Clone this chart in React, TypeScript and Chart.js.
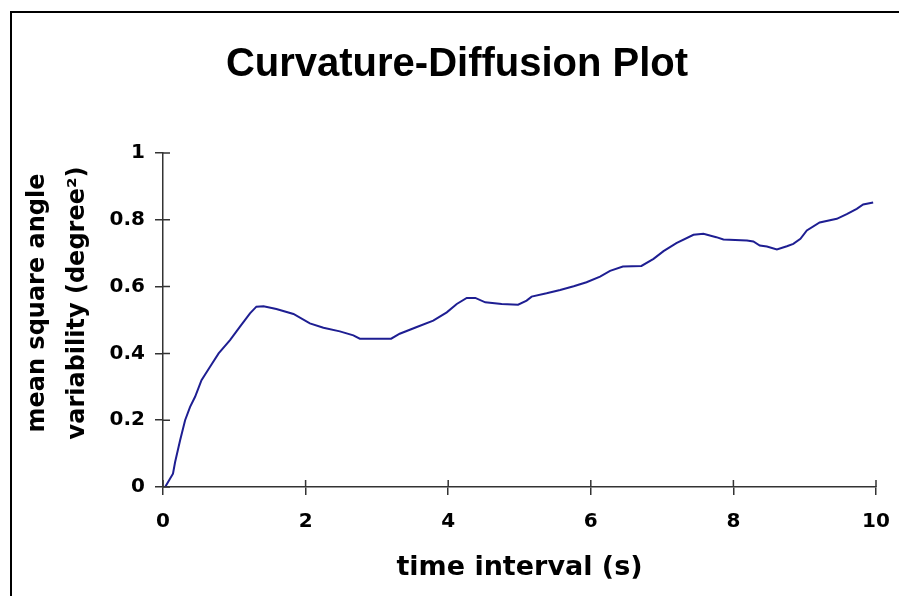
import React, { useEffect, useRef } from "react";
import { Chart, registerables } from "chart.js";

Chart.register(...registerables);

const TITLE = "Curvature-Diffusion Plot";
const X_TITLE = "time interval (s)";
const Y_TITLE = ["mean square angle", "variability (degree²)"];

const X_TICKS = [0, 2, 4, 6, 8, 10];
const X_TICK_LABELS = ["0", "2", "4", "6", "8", "10"];
const Y_TICKS = [0, 0.2, 0.4, 0.6, 0.8, 1];
const Y_TICK_LABELS = ["0", "0.2", "0.4", "0.6", "0.8", "1"];

const times = [
  0.03, 0.14, 0.17, 0.24, 0.31, 0.38, 0.45, 0.54, 0.66, 0.78, 0.94, 1.08, 1.22, 1.31, 1.41,
  1.59, 1.83, 2.06, 2.25, 2.48, 2.67, 2.76, 3.2, 3.32, 3.56, 3.79, 3.98, 4.12, 4.26, 4.38,
  4.52, 4.75, 4.98, 5.1, 5.17, 5.38, 5.57, 5.76, 5.94, 6.13, 6.27, 6.45, 6.71, 6.88, 7.02,
  7.2, 7.44, 7.58, 7.76, 7.86, 8.19, 8.28, 8.37, 8.47, 8.61, 8.75, 8.84, 8.94, 9.03, 9.21,
  9.45, 9.59, 9.73, 9.82, 9.96,
];
const msv = [
  0.0, 0.04, 0.075, 0.14, 0.2, 0.24, 0.27, 0.32, 0.36, 0.4, 0.44, 0.48, 0.52, 0.54, 0.541,
  0.533, 0.518, 0.49, 0.477, 0.466, 0.454, 0.444, 0.444, 0.459, 0.479, 0.498, 0.523, 0.548, 0.566, 0.566,
  0.553, 0.548, 0.546, 0.558, 0.57, 0.58, 0.59, 0.601, 0.613, 0.63, 0.647, 0.66, 0.662, 0.683, 0.706,
  0.73, 0.755, 0.758, 0.748, 0.741, 0.738, 0.735, 0.723, 0.72, 0.711, 0.721, 0.728, 0.743, 0.768, 0.792,
  0.803, 0.817, 0.833, 0.846, 0.852,
];

const AXIS_COLOR = "#333333";
const SANS = "'DejaVu Sans', Verdana, sans-serif";
const TICK_FONT = { family: SANS, size: 20, weight: "bold" as const };

const innerTicks = {
  id: "innerTicks",
  afterDatasetsDraw(chart: any) {
    const { ctx } = chart;
    const xs = chart.scales.x;
    const ys = chart.scales.y;
    ctx.save();
    ctx.strokeStyle = AXIS_COLOR;
    ctx.lineWidth = 1.5;
    ctx.beginPath();
    ys.ticks.forEach((t: any) => {
      const py = ys.getPixelForValue(t.value);
      ctx.moveTo(xs.left, py);
      ctx.lineTo(xs.left + 7, py);
    });
    xs.ticks.forEach((t: any) => {
      const px = xs.getPixelForValue(t.value);
      ctx.moveTo(px, ys.bottom);
      ctx.lineTo(px, ys.bottom - 7);
    });
    ctx.stroke();
    ctx.restore();
  },
};

const titles = {
  id: "titles",
  afterDraw(chart: any) {
    const { ctx } = chart;
    ctx.save();
    ctx.fillStyle = "#000";
    ctx.font = "bold 40px 'Liberation Sans', Arial, sans-serif";
    ctx.textAlign = "center";
    ctx.textBaseline = "alphabetic";
    ctx.fillText(TITLE, 457, 76);

    ctx.font = `bold 24px ${SANS}`;
    ctx.textBaseline = "middle";
    const cx = [38, 78];
    Y_TITLE.forEach((line, i) => {
      ctx.save();
      ctx.translate(cx[i], 303);
      ctx.rotate(-Math.PI / 2);
      ctx.fillText(line, 0, 0);
      ctx.restore();
    });
    ctx.restore();
  },
};

export default function App() {
  const ref = useRef<HTMLCanvasElement | null>(null);
  useEffect(() => {
    if (!ref.current) return;
    const chart = new Chart(ref.current, {
      type: "line",
      data: {
        datasets: [
          {
            data: times.map((t, i) => ({ x: t, y: msv[i] })),
            borderColor: "#1e1e92",
            borderWidth: 2,
            pointRadius: 0,
            tension: 0,
            fill: false,
          },
        ],
      },
      options: {
        animation: false,
        responsive: false,
        maintainAspectRatio: false,
        layout: { padding: { top: 153, left: 0, right: 23, bottom: 0 } },
        plugins: {
          legend: { display: false },
          tooltip: { enabled: false },
          title: { display: false },
        },
        scales: {
          x: {
            type: "linear",
            min: 0,
            max: 10,
            afterBuildTicks: (s: any) => {
              s.ticks = X_TICKS.map((v) => ({ value: v }));
            },
            afterFit: (s: any) => {
              s.height = 109;
              s.paddingLeft = 0;
              s.paddingRight = 0;
            },
            ticks: {
              color: "#000",
              font: TICK_FONT,
              padding: 15,
              maxRotation: 0,
              callback: (v: any) => X_TICK_LABELS[X_TICKS.indexOf(Number(v))] ?? "",
            },
            grid: { drawOnChartArea: false, drawTicks: true, tickLength: 8, color: AXIS_COLOR, lineWidth: 1.5 },
            border: { display: true, color: AXIS_COLOR, width: 1.5 },
            title: {
              display: true,
              text: X_TITLE,
              color: "#000",
              font: { family: SANS, size: 27, weight: "bold", lineHeight: 1.2 },
              padding: { top: 0, bottom: 12 },
            },
          },
          y: {
            type: "linear",
            min: 0,
            max: 1,
            afterBuildTicks: (s: any) => {
              s.ticks = Y_TICKS.map((v) => ({ value: v }));
            },
            afterFit: (s: any) => {
              s.width = 163;
            },
            ticks: {
              color: "#000",
              font: TICK_FONT,
              padding: 10,
              callback: (v: any) => {
                const i = Y_TICKS.findIndex((t) => Math.abs(t - Number(v)) < 1e-9);
                return i >= 0 ? Y_TICK_LABELS[i] : "";
              },
            },
            grid: { drawOnChartArea: false, drawTicks: true, tickLength: 8, color: AXIS_COLOR, lineWidth: 1.5 },
            border: { display: true, color: AXIS_COLOR, width: 1.5 },
          },
        },
      },
      plugins: [innerTicks, titles],
    });
    return () => chart.destroy();
  }, []);

  return (
    <div style={{ position: "fixed", left: 0, top: 0, width: 899, height: 596, overflow: "hidden", background: "#fff" }}>
      <div
        style={{
          position: "absolute",
          left: 10,
          top: 11,
          width: 1000,
          height: 700,
          borderLeft: "2px solid #000",
          borderTop: "2px solid #000",
        }}
      />
      <canvas ref={ref} width={899} height={596} style={{ position: "absolute", left: 0, top: 0, width: 899, height: 596 }} />
    </div>
  );
}
